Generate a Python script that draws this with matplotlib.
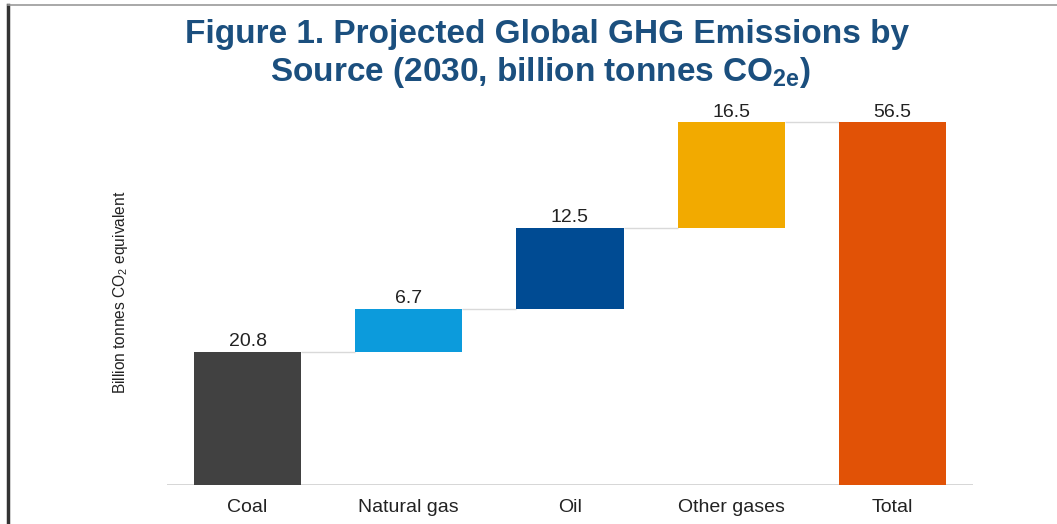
import numpy as np
import matplotlib
matplotlib.use("Agg")
from matplotlib import pyplot as plt
from matplotlib.lines import Line2D

plt.rcParams['font.family'] = ['Liberation Sans', 'DejaVu Sans']
plt.rcParams['mathtext.fontset'] = 'custom'
plt.rcParams['mathtext.rm'] = 'Liberation Sans'
plt.rcParams['mathtext.bf'] = 'Liberation Sans:bold'

# data
categories = ['Coal', 'Natural gas', 'Oil', 'Other gases', 'Total']
values = [20.8, 6.7, 12.5, 16.5, 56.5]
labels = ['20.8', '6.7', '12.5', '16.5', '56.5']
colors = ['#414141', '#0C9BDC', '#004B93', '#F2AA00', '#E15206']

# waterfall bottoms: running total for the parts, 0 for the total
bottoms = list(np.concatenate([[0], np.cumsum(values[:-2])])) + [0]

fig = plt.figure(figsize=(10.57, 5.24), dpi=100)
ax = fig.add_axes([0.158, 0.0744, 0.7625, 0.7347])

x = np.arange(len(categories))
w = 0.664
ax.bar(x, values, width=w, bottom=bottoms, color=colors, zorder=3)

# connectors between bar tops
tops = [b + v for b, v in zip(bottoms, values)]
for i in range(len(x) - 1):
    ax.hlines(tops[i], x[i] + w / 2, x[i + 1] - w / 2, color='#d9d9d9', lw=1, zorder=2)

for xi, t, lab in zip(x, tops, labels):
    ax.text(xi, t + 0.3, lab, ha='center', va='bottom', fontsize=14, color='#222222')

ax.axhline(0, color='#d0d0d0', lw=1.2, zorder=1)
ax.set_xlim(-0.5, len(categories) - 0.5)
ax.set_ylim(0, 60)
ax.set_xticks(x)
ax.set_xticklabels(categories, fontsize=14, color='#222222')
ax.tick_params(axis='x', length=0, pad=10)
ax.set_yticks([])
for s in ax.spines.values():
    s.set_visible(False)

fig.text(120 / 1057, 1 - 292 / 524, r'Billion tonnes $\mathrm{CO_2}$ equivalent',
         rotation=90, ha='center', va='center', fontsize=11.2, color='#222222')

fig.text(547 / 1057, 1 - 35 / 524, 'Figure 1. Projected Global GHG Emissions by',
         ha='center', va='center', fontsize=24, fontweight='bold', color='#1B4F7E')
fig.text(541 / 1057, 1 - 73 / 524, r'Source (2030, billion tonnes $\mathbf{CO_{2e}}$)',
         ha='center', va='center', fontsize=24, fontweight='bold', color='#1B4F7E')

# frame lines of the screenshot
fig.add_artist(Line2D([8 / 1057, 8 / 1057], [0, 1 - 5 / 524], color='#333333', lw=2.5))
fig.add_artist(Line2D([8 / 1057, 1], [1 - 5 / 524, 1 - 5 / 524], color='#9a9a9a', lw=1.2))

fig.savefig('out.png', dpi=100)
